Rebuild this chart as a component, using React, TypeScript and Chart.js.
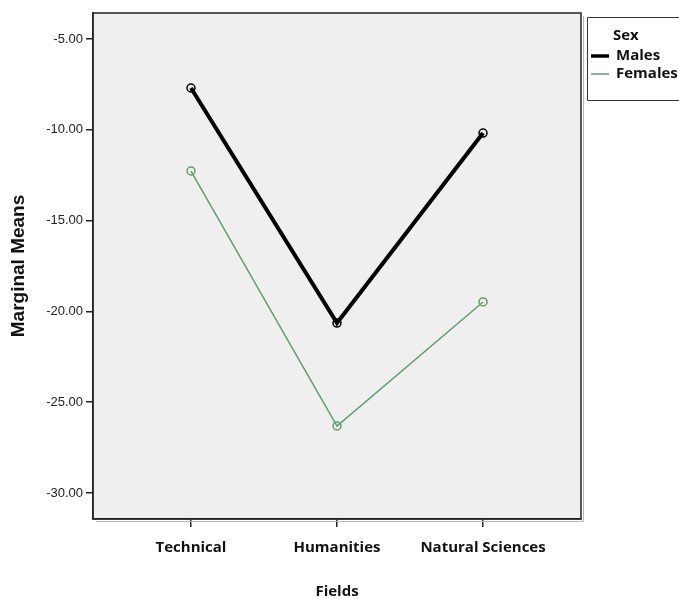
import React, { useEffect, useRef } from "react";
import { Chart, registerables } from "chart.js";

Chart.register(...registerables);

const categories = ["Technical", "Humanities", "Natural Sciences"];
const malesMeans = [-7.7, -20.64, -10.18];
const femalesMeans = [-12.27, -26.31, -19.48];
const yTickValues = [-5, -10, -15, -20, -25, -30];
const legendTitle = "Sex";
const seriesNames = ["Males", "Females"];
const seriesColors = ["#000000", "#5e9f6b"];
const legendLineColors = ["#000000", "#8fae96"];

export default function App() {
  const ref = useRef<HTMLCanvasElement | null>(null);

  useEffect(() => {
    if (!ref.current) return;
    const bgPlugin = {
      id: "bgPlot",
      beforeDraw(chart: any) {
        const { ctx, chartArea: a } = chart;
        ctx.save();
        ctx.fillStyle = "#efefef";
        ctx.fillRect(a.left, a.top, a.right - a.left, a.bottom - a.top);
        ctx.restore();
      },
      afterDraw(chart: any) {
        const { ctx, chartArea: a } = chart;
        ctx.save();
        ctx.strokeStyle = "#b8b8b8";
        ctx.lineWidth = 1;
        ctx.beginPath();
        ctx.moveTo(a.right + 2.5, a.top + 3);
        ctx.lineTo(a.right + 2.5, a.bottom + 2.5);
        ctx.lineTo(a.left + 3, a.bottom + 2.5);
        ctx.stroke();
        ctx.strokeStyle = "#222";
        ctx.lineWidth = 1.5;
        ctx.strokeRect(a.left, a.top, a.right - a.left, a.bottom - a.top);
        // legend
        const lx = 587.5;
        const ly = 17.5;
        ctx.strokeStyle = "#333";
        ctx.lineWidth = 1;
        ctx.beginPath();
        ctx.moveTo(700, ly);
        ctx.lineTo(lx, ly);
        ctx.lineTo(lx, 100.5);
        ctx.lineTo(700, 100.5);
        ctx.stroke();
        ctx.fillStyle = "#111";
        ctx.textBaseline = "middle";
        ctx.textAlign = "left";
        ctx.font = "bold 15px 'Open Sans'";
        ctx.fillText(legendTitle, 613, 36);
        const ys = [56, 74];
        seriesNames.forEach((n, i) => {
          ctx.strokeStyle = legendLineColors[i];
          ctx.lineWidth = i === 0 ? 3.5 : 2;
          ctx.beginPath();
          ctx.moveTo(591, ys[i]);
          ctx.lineTo(609, ys[i]);
          ctx.stroke();
          ctx.fillText(n, 616, ys[i]);
        });
        ctx.restore();
      },
    };

    const chart = new Chart(ref.current, {
      type: "line",
      data: {
        datasets: [
          {
            label: seriesNames[0],
            data: malesMeans.map((v, i) => ({ x: i, y: v })),
            borderColor: seriesColors[0],
            borderWidth: 4,
            pointRadius: 4,
            pointBorderWidth: 1.5,
            pointBorderColor: seriesColors[0],
            pointBackgroundColor: "rgba(0,0,0,0)",
            tension: 0,
          },
          {
            label: seriesNames[1],
            data: femalesMeans.map((v, i) => ({ x: i, y: v })),
            borderColor: seriesColors[1],
            borderWidth: 1.5,
            pointRadius: 4,
            pointBorderWidth: 1.5,
            pointBorderColor: seriesColors[1],
            pointBackgroundColor: "rgba(0,0,0,0)",
            tension: 0,
          },
        ],
      },
      options: {
        responsive: false,
        animation: false,
        devicePixelRatio: 1,
        layout: { padding: { top: 13, right: 98, bottom: 0, left: 0 } },
        plugins: { legend: { display: false }, tooltip: { enabled: false } },
        scales: {
          x: {
            type: "linear",
            min: -0.671,
            max: 2.671,
            afterBuildTicks: (s: any) => {
              s.ticks = categories.map((_, i) => ({ value: i }));
            },
            afterFit: (s: any) => {
              s.height = 80;
            },
            ticks: {
              callback: (v: any) => categories[v as number] ?? "",
              color: "#111",
              font: { family: "'Open Sans'", size: 15, weight: "bold" },
              padding: 12,
              maxRotation: 0,
              autoSkip: false,
            },
            grid: {
              drawOnChartArea: false,
              drawTicks: true,
              tickLength: 8,
              color: "#222",
              lineWidth: 1.5,
            },
            border: { display: true, color: "#222", width: 1.5 },
            title: {
              display: true,
              text: "Fields",
              color: "#111",
              font: { family: "'Open Sans'", size: 15, weight: "bold", lineHeight: 1 },
              padding: { top: 0, bottom: 0 },
            },
          },
          y: {
            type: "linear",
            min: -31.43,
            max: -3.57,
            afterBuildTicks: (s: any) => {
              s.ticks = yTickValues.map((v) => ({ value: v }));
            },
            afterFit: (s: any) => {
              s.width = 93;
            },
            ticks: {
              callback: (v: any) => Number(v).toFixed(2),
              color: "#222",
              font: { family: "'Liberation Sans'", size: 13 },
              padding: 3,
            },
            grid: {
              drawOnChartArea: false,
              drawTicks: true,
              tickLength: 7,
              color: "#222",
              lineWidth: 1.5,
            },
            border: { display: true, color: "#222", width: 1.5 },
            title: {
              display: true,
              text: "Marginal Means",
              color: "#111",
              font: { family: "'Liberation Sans'", size: 19, weight: "bold", lineHeight: 1 },
              padding: { top: 9, bottom: 0 },
            },
          },
        },
      },
      plugins: [bgPlugin],
    } as any);
    return () => chart.destroy();
  }, []);

  return (
    <div style={{ position: "fixed", left: 0, top: 0, width: 679, height: 599, background: "#fff" }}>
      <canvas ref={ref} width={679} height={599} style={{ display: "block" }} />
    </div>
  );
}
